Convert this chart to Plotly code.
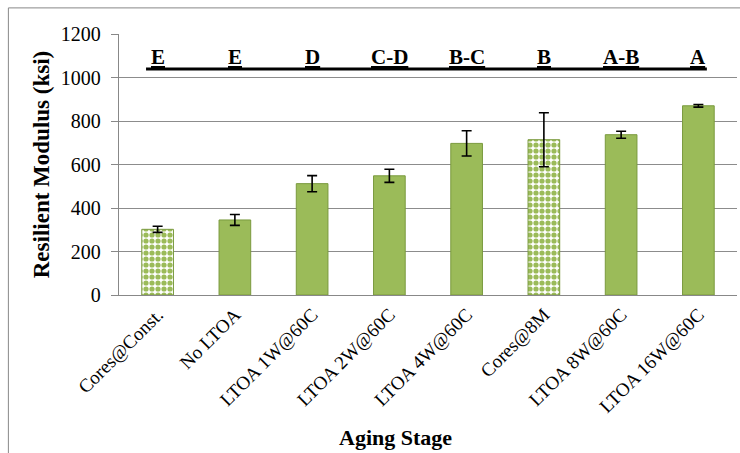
import plotly.graph_objects as go

categories = ["Cores@Const.", "No LTOA", "LTOA 1W@60C", "LTOA 2W@60C",
              "LTOA 4W@60C", "Cores@8M", "LTOA 8W@60C", "LTOA 16W@60C"]
modulus = [302, 345, 512, 548, 697, 714, 737, 870]
errors = [14, 25, 37, 30, 58, 124, 16, 6]
groups = ["E", "E", "D", "C-D", "B-C", "B", "A-B", "A"]
is_core = [True, False, False, False, False, True, False, False]

GREEN = "#9BBB59"
EDGE = "#7A9A3E"
SERIF = "Liberation Serif"

fig = go.Figure()
fig.add_trace(go.Bar(
    x=categories, y=modulus,
    error_y=dict(type="data", array=errors, color="black", thickness=1.6, width=5),
    marker=dict(
        color=GREEN,
        line=dict(color=EDGE, width=1),
        pattern=dict(
            shape=["." if c else "" for c in is_core],
            bgcolor="white", size=6, solidity=0.6, fillmode="replace"),
    ),
    showlegend=False,
))

for cat, g in zip(categories, groups):
    fig.add_annotation(x=cat, y=1094, text=f"<b><u>{g}</u></b>", showarrow=False,
                       font=dict(family=SERIF, size=21, color="black"),
                       yanchor="middle")

fig.add_shape(type="line", xref="x", yref="y", x0=-0.15, x1=7.11, y0=1039, y1=1039,
              line=dict(color="black", width=3))

# x-axis title (placed as in the reference, slightly left of plot centre)
fig.add_annotation(xref="paper", yref="paper", x=0.447, y=-0.545,
                   text="<b>Aging Stage</b>", showarrow=False,
                   font=dict(family=SERIF, size=22, color="black"),
                   xanchor="center", yanchor="middle")

# outer frame (left and top)
fig.add_shape(type="line", xref="paper", yref="paper", x0=-0.179, x1=1.2, y0=1.1, y1=1.1,
              line=dict(color="#888888", width=1))
fig.add_shape(type="line", xref="paper", yref="paper", x0=-0.179, x1=-0.179, y0=1.1, y1=-0.7,
              line=dict(color="#888888", width=1))

fig.update_layout(
    width=740, height=453,
    margin=dict(l=119, r=3, t=34, b=158),
    paper_bgcolor="white", plot_bgcolor="white",
    bargap=0.59,
    font=dict(family=SERIF, color="black"),
    xaxis=dict(
        tickangle=-45, tickfont=dict(family=SERIF, size=19),
        showline=True, linecolor="#888888", linewidth=1.3,
        ticks="", showgrid=False, automargin=False,
    ),
    yaxis=dict(
        title=dict(text="<b>Resilient Modulus (ksi)</b>", font=dict(family=SERIF, size=23), standoff=4),
        range=[0, 1200], dtick=200, tickfont=dict(family=SERIF, size=20),
        showgrid=True, gridcolor="#8c8c8c", gridwidth=1.3,
        showline=True, linecolor="#888888", linewidth=1.3,
        ticks="outside", ticklen=7, tickcolor="#888888",
        ticklabelstandoff=6,
        zeroline=False, automargin=False,
    ),
)

fig.write_html("out.html", config={"displayModeBar": False},
               post_script="document.body.style.margin='0';document.body.style.overflow='hidden';")
